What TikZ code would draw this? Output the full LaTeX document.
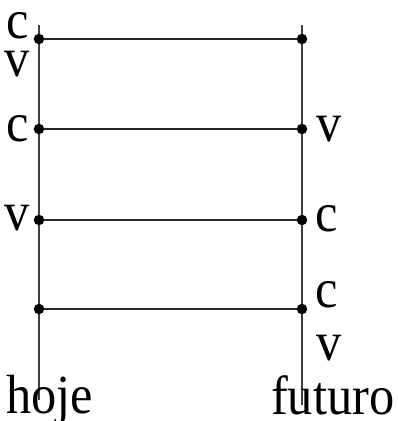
\documentclass[tikz,border=0pt]{standalone}
\usepackage{fontspec}
\setmainfont{Liberation Serif}
\usetikzlibrary{positioning}

\newcommand{\tall}[1]{\scalebox{1.05}[1.15]{#1}}

\tikzset{
  dot/.style={circle, fill=black, inner sep=0pt, minimum size=10.5pt},
  lbl/.style={inner sep=0pt, font=\fontsize{48}{48}\selectfont},
  rail/.style={line width=2.4pt, black!75},
  rung/.style={line width=1.9pt, black!85}
}

\begin{document}
\begin{tikzpicture}[x=1pt, y=-1pt]

    \useasboundingbox (0,0) rectangle (397,421);

    %% --- Rails ---
    \coordinate (LT) at (39,25);
    \coordinate (LB) at (39,400);
    \coordinate (RT) at (302,25);
    \coordinate (RB) at (302,405);
    \draw[rail] (LT) -- (LB);
    \draw[rail] (RT) -- (RB);

    %% --- Events ---
    \node[dot] (L1) at (39,39) {};
    \node[dot] (L2) at (39,129) {};
    \node[dot] (L3) at (39,220) {};
    \node[dot] (L4) at (39,309) {};
    \node[dot] (R1) at (302,39) {};
    \node[dot] (R2) at (302,129) {};
    \node[dot] (R3) at (302,220) {};
    \node[dot] (R4) at (302,309) {};

    %% --- Rungs ---
    \draw[rung] (L1) -- (R1);
    \draw[rung] (L2) -- (R2);
    \draw[rung] (L3) -- (R3);
    \draw[rung] (L4) -- (R4);

    %% Labels
    \node[lbl] (c1) at (18,26) {\tall{c}};
    \node[lbl] (v1) at (17,64) {\tall{v}};
    \node[lbl] (c2) at (18,129) {\tall{c}};
    \node[lbl] (v3) at (17,218) {\tall{v}};
    \node[lbl] (v2) at (329,129) {\tall{v}};
    \node[lbl] (c3) at (327,219) {\tall{c}};
    \node[lbl] (c4) at (327,295) {\tall{c}};
    \node[lbl] (v4) at (329,348) {\tall{v}};

    \node[lbl, anchor=base west] (hoje) at (6,413) {\tall{hoje}};
    \node[lbl, anchor=base west] (futuro) at (271,414) {\tall{futuro}};

\end{tikzpicture}
\end{document}
